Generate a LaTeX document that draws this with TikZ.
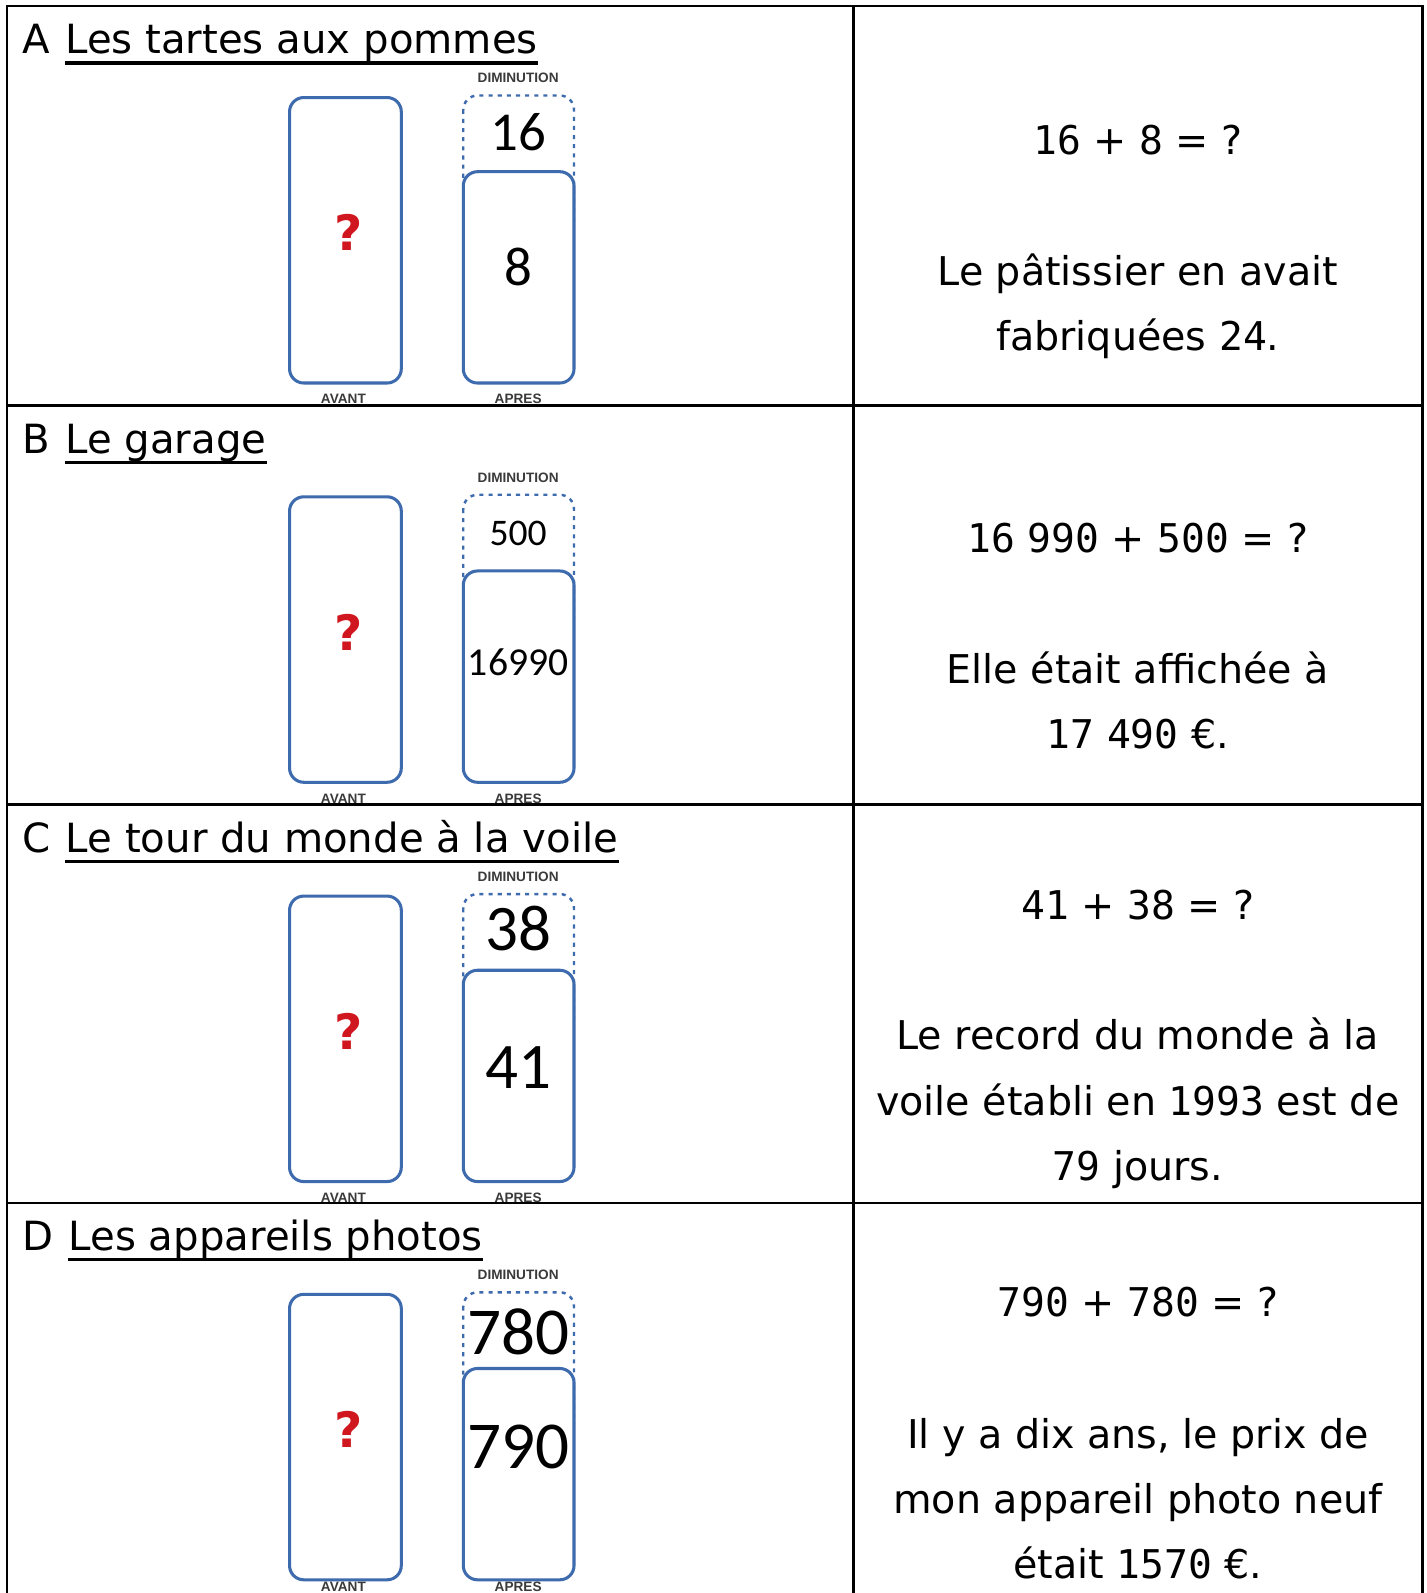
\documentclass[tikz,border=0pt]{standalone}
\usepackage{fontspec}
\setmainfont{DejaVu Sans}
\newfontfamily\monofont{DejaVu Sans Mono}
\newfontfamily\califont{Carlito}
\newfontfamily\labfont{Liberation Sans}
\newfontfamily\qfont{DejaVu Sans}
\usetikzlibrary{calc}
\definecolor{boxblue}{HTML}{3E6BAE}
\definecolor{qred}{HTML}{D0161E}
\definecolor{labgray}{HTML}{3A3A3A}
\newcommand{\dg}[1]{{\monofont #1}}
\tikzset{
  bar/.style={draw=boxblue, line width=1.5pt, rounded corners=7pt, fill=white},
  dimbox/.style={draw=boxblue, line width=1.2pt, rounded corners=7pt, dash pattern=on 2pt off 2.5pt},
  gridline/.style={line width=1.25pt, black},
  txt/.style={font=\fontsize{19.5}{23}\selectfont, inner sep=0pt, anchor=base},
  ttl/.style={font=\fontsize{19.8}{23}\selectfont, inner sep=0pt, anchor=base west},
  lab/.style={font=\labfont\bfseries\fontsize{6.7}{8}\selectfont, text=labgray, inner sep=0pt},
  qmark/.style={font=\qfont\bfseries\fontsize{24}{30}\selectfont, text=qred, inner sep=0pt},
  num/.style={font=\califont, inner sep=0pt},
}
% #1 row top, #2 letter, #3 title, #4 dim content, #5 dim y, #6 apres content, #7 apres y
\newcommand{\panel}[8]{%
  \node[ttl] (#2let) at (22,{#1+47}) {#2};
  \node[ttl] (#2ttl) at ($(#2let.base east)+(14,0)$) {#3};
  \draw[line width=1.5pt] ($(#2ttl.base west)+(0,9)$) -- ($(#2ttl.base east)+(0,9)$);
  \node[lab] (#2dimlab) at (510,{#1+71}) {DIMINUTION};
  \draw[bar] (285,{#1+90}) rectangle (395,{#1+371});
  \draw[dimbox] (456,{#1+88}) rectangle (565,{#1+230});
  \draw[bar] (456,{#1+163}) rectangle (565,{#1+371});
  \node[qmark] (#2q) at (343,{#1+223}) {?};
  \node[num] (#2dim) at (510,{#1+#5}) {#4};
  \node[num] (#2apres) at (510,{#1+#7}) {#6};
  \node[lab] (#2avlab) at (338,{#1+#8}) {AVANT};
  \node[lab] (#2aplab) at (510,{#1+#8}) {APRES};
}
\begin{document}
\begin{tikzpicture}[x=0.5pt,y=-0.5pt]
\useasboundingbox (0,0) rectangle (1404,1568);
\clip (0,0) rectangle (1404,1568);
\fill[white] (0,0) rectangle (1404,1568);

\panel{6}{A}{Les tartes aux pommes}{\fontsize{27}{30}\selectfont 16}{124}{\fontsize{27}{30}\selectfont 8}{257}{387}
\panel{399}{B}{Le garage}{\fontsize{18.5}{22}\selectfont 500}{126}{\fontsize{19.5}{22}\selectfont 16990}{253}{387}
\panel{792}{C}{Le tour du monde à la voile}{\fontsize{32}{36}\selectfont 38}{122}{\fontsize{32}{36}\selectfont 41}{259}{387}
\panel{1184}{D}{Les appareils photos}{\fontsize{33}{36}\selectfont 780}{127}{\fontsize{33}{36}\selectfont 790}{240}{378}

% right column
\node[txt] (Aeq) at (1120,152) {\dg{16} + \dg{8} = ?};
\node[txt] (Al1) at (1120,281) {Le pâtissier en avait};
\node[txt] (Al2) at (1120,345) {fabriquées \dg{24}.};

\node[txt] (Beq) at (1120,544) {\dg{16} \dg{990} + \dg{500} = ?};
\node[txt] (Bl1) at (1120,673) {Elle était affichée à};
\node[txt] (Bl2) at (1120,737) {\dg{17} \dg{490} €.};

\node[txt] (Ceq) at (1120,905) {\dg{41} + \dg{38} = ?};
\node[txt] (Cl1) at (1120,1033) {Le record du monde à la};
\node[txt] (Cl2) at (1120,1098) {voile établi en \dg{1993} est de};
\node[txt] (Cl3) at (1120,1162) {\dg{79} jours.};

\node[txt] (Deq) at (1120,1296) {\dg{790} + \dg{780} = ?};
\node[txt] (Dl1) at (1120,1426) {Il y a dix ans, le prix de};
\node[txt] (Dl2) at (1120,1490) {mon appareil photo neuf};
\node[txt] (Dl3) at (1120,1554) {était \dg{1570} €.};

% table grid
\coordinate (tl) at (7,6);
\coordinate (tr) at (1400,6);
\coordinate (bl) at (7,1570);
\coordinate (br) at (1400,1570);
\coordinate (ct) at (840,6);
\coordinate (cb) at (840,1570);
\draw[gridline] (bl) -- (tl) -- (tr) -- (br);
\draw[gridline] (ct) -- (cb);
\draw[gridline] (7,399) -- (1400,399);
\draw[gridline] (7,792) -- (1400,792);
\draw[gridline] (7,1184) -- (1400,1184);
\end{tikzpicture}
\end{document}
